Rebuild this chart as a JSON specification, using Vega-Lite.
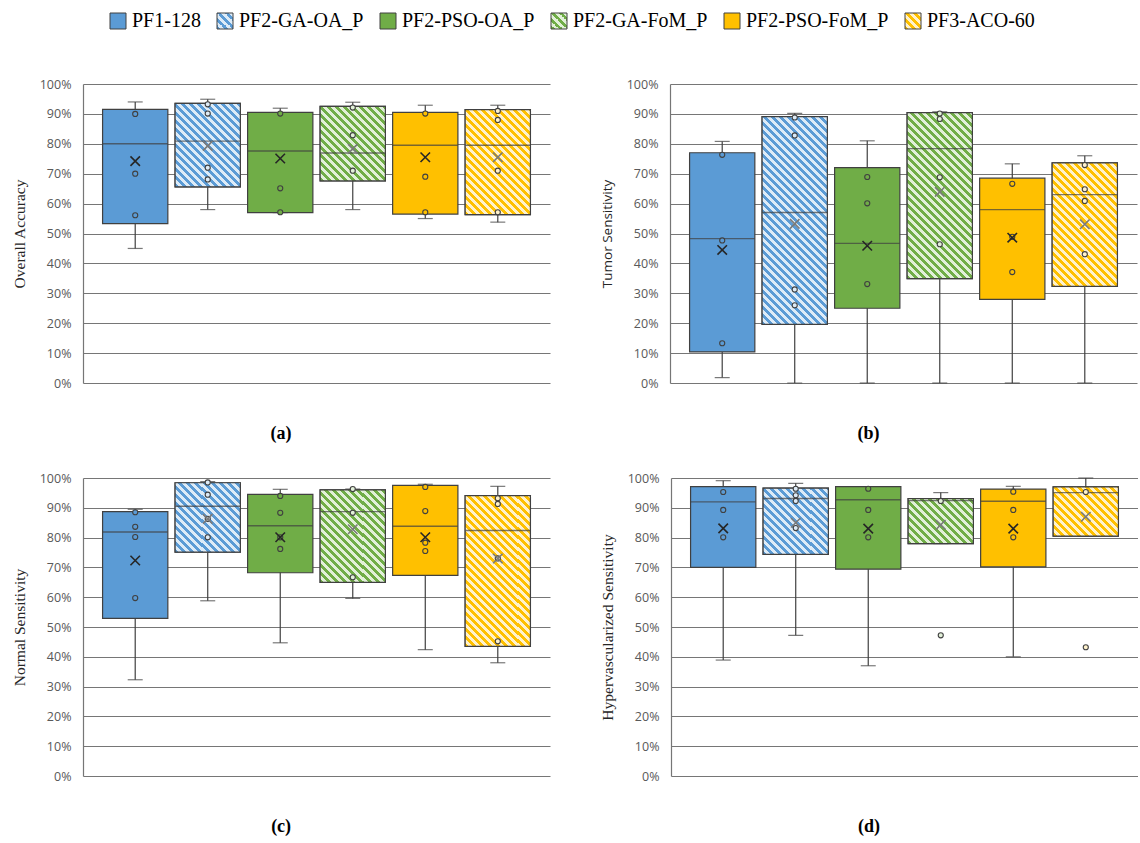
{
  "$schema": "https://vega.github.io/schema/vega-lite/v6.json",
  "padding": {"left": 12, "top": 11, "right": 0, "bottom": 0},
  "background": "white",
  "params": [
    {"name": "stripesBlue", "value": [
      {"offset":0,"color":"#5B9BD5"},{"offset":0.0125,"color":"#5B9BD5"},{"offset":0.0125,"color":"#DDEBF7"},{"offset":0.025,"color":"#DDEBF7"},
      {"offset":0.025,"color":"#5B9BD5"},{"offset":0.0375,"color":"#5B9BD5"},{"offset":0.0375,"color":"#DDEBF7"},{"offset":0.05,"color":"#DDEBF7"},
      {"offset":0.05,"color":"#5B9BD5"},{"offset":0.0625,"color":"#5B9BD5"},{"offset":0.0625,"color":"#DDEBF7"},{"offset":0.075,"color":"#DDEBF7"},
      {"offset":0.075,"color":"#5B9BD5"},{"offset":0.0875,"color":"#5B9BD5"},{"offset":0.0875,"color":"#DDEBF7"},{"offset":0.1,"color":"#DDEBF7"},
      {"offset":0.1,"color":"#5B9BD5"},{"offset":0.1125,"color":"#5B9BD5"},{"offset":0.1125,"color":"#DDEBF7"},{"offset":0.125,"color":"#DDEBF7"},
      {"offset":0.125,"color":"#5B9BD5"},{"offset":0.1375,"color":"#5B9BD5"},{"offset":0.1375,"color":"#DDEBF7"},{"offset":0.15,"color":"#DDEBF7"},
      {"offset":0.15,"color":"#5B9BD5"},{"offset":0.1625,"color":"#5B9BD5"},{"offset":0.1625,"color":"#DDEBF7"},{"offset":0.175,"color":"#DDEBF7"},
      {"offset":0.175,"color":"#5B9BD5"},{"offset":0.1875,"color":"#5B9BD5"},{"offset":0.1875,"color":"#DDEBF7"},{"offset":0.2,"color":"#DDEBF7"},
      {"offset":0.2,"color":"#5B9BD5"},{"offset":0.2125,"color":"#5B9BD5"},{"offset":0.2125,"color":"#DDEBF7"},{"offset":0.225,"color":"#DDEBF7"},
      {"offset":0.225,"color":"#5B9BD5"},{"offset":0.2375,"color":"#5B9BD5"},{"offset":0.2375,"color":"#DDEBF7"},{"offset":0.25,"color":"#DDEBF7"},
      {"offset":0.25,"color":"#5B9BD5"},{"offset":0.2625,"color":"#5B9BD5"},{"offset":0.2625,"color":"#DDEBF7"},{"offset":0.275,"color":"#DDEBF7"},
      {"offset":0.275,"color":"#5B9BD5"},{"offset":0.2875,"color":"#5B9BD5"},{"offset":0.2875,"color":"#DDEBF7"},{"offset":0.3,"color":"#DDEBF7"},
      {"offset":0.3,"color":"#5B9BD5"},{"offset":0.3125,"color":"#5B9BD5"},{"offset":0.3125,"color":"#DDEBF7"},{"offset":0.325,"color":"#DDEBF7"},
      {"offset":0.325,"color":"#5B9BD5"},{"offset":0.3375,"color":"#5B9BD5"},{"offset":0.3375,"color":"#DDEBF7"},{"offset":0.35,"color":"#DDEBF7"},
      {"offset":0.35,"color":"#5B9BD5"},{"offset":0.3625,"color":"#5B9BD5"},{"offset":0.3625,"color":"#DDEBF7"},{"offset":0.375,"color":"#DDEBF7"},
      {"offset":0.375,"color":"#5B9BD5"},{"offset":0.3875,"color":"#5B9BD5"},{"offset":0.3875,"color":"#DDEBF7"},{"offset":0.4,"color":"#DDEBF7"},
      {"offset":0.4,"color":"#5B9BD5"},{"offset":0.4125,"color":"#5B9BD5"},{"offset":0.4125,"color":"#DDEBF7"},{"offset":0.425,"color":"#DDEBF7"},
      {"offset":0.425,"color":"#5B9BD5"},{"offset":0.4375,"color":"#5B9BD5"},{"offset":0.4375,"color":"#DDEBF7"},{"offset":0.45,"color":"#DDEBF7"},
      {"offset":0.45,"color":"#5B9BD5"},{"offset":0.4625,"color":"#5B9BD5"},{"offset":0.4625,"color":"#DDEBF7"},{"offset":0.475,"color":"#DDEBF7"},
      {"offset":0.475,"color":"#5B9BD5"},{"offset":0.4875,"color":"#5B9BD5"},{"offset":0.4875,"color":"#DDEBF7"},{"offset":0.5,"color":"#DDEBF7"},
      {"offset":0.5,"color":"#5B9BD5"},{"offset":0.5125,"color":"#5B9BD5"},{"offset":0.5125,"color":"#DDEBF7"},{"offset":0.525,"color":"#DDEBF7"},
      {"offset":0.525,"color":"#5B9BD5"},{"offset":0.5375,"color":"#5B9BD5"},{"offset":0.5375,"color":"#DDEBF7"},{"offset":0.55,"color":"#DDEBF7"},
      {"offset":0.55,"color":"#5B9BD5"},{"offset":0.5625,"color":"#5B9BD5"},{"offset":0.5625,"color":"#DDEBF7"},{"offset":0.575,"color":"#DDEBF7"},
      {"offset":0.575,"color":"#5B9BD5"},{"offset":0.5875,"color":"#5B9BD5"},{"offset":0.5875,"color":"#DDEBF7"},{"offset":0.6,"color":"#DDEBF7"},
      {"offset":0.6,"color":"#5B9BD5"},{"offset":0.6125,"color":"#5B9BD5"},{"offset":0.6125,"color":"#DDEBF7"},{"offset":0.625,"color":"#DDEBF7"},
      {"offset":0.625,"color":"#5B9BD5"},{"offset":0.6375,"color":"#5B9BD5"},{"offset":0.6375,"color":"#DDEBF7"},{"offset":0.65,"color":"#DDEBF7"},
      {"offset":0.65,"color":"#5B9BD5"},{"offset":0.6625,"color":"#5B9BD5"},{"offset":0.6625,"color":"#DDEBF7"},{"offset":0.675,"color":"#DDEBF7"},
      {"offset":0.675,"color":"#5B9BD5"},{"offset":0.6875,"color":"#5B9BD5"},{"offset":0.6875,"color":"#DDEBF7"},{"offset":0.7,"color":"#DDEBF7"},
      {"offset":0.7,"color":"#5B9BD5"},{"offset":0.7125,"color":"#5B9BD5"},{"offset":0.7125,"color":"#DDEBF7"},{"offset":0.725,"color":"#DDEBF7"},
      {"offset":0.725,"color":"#5B9BD5"},{"offset":0.7375,"color":"#5B9BD5"},{"offset":0.7375,"color":"#DDEBF7"},{"offset":0.75,"color":"#DDEBF7"},
      {"offset":0.75,"color":"#5B9BD5"},{"offset":0.7625,"color":"#5B9BD5"},{"offset":0.7625,"color":"#DDEBF7"},{"offset":0.775,"color":"#DDEBF7"},
      {"offset":0.775,"color":"#5B9BD5"},{"offset":0.7875,"color":"#5B9BD5"},{"offset":0.7875,"color":"#DDEBF7"},{"offset":0.8,"color":"#DDEBF7"},
      {"offset":0.8,"color":"#5B9BD5"},{"offset":0.8125,"color":"#5B9BD5"},{"offset":0.8125,"color":"#DDEBF7"},{"offset":0.825,"color":"#DDEBF7"},
      {"offset":0.825,"color":"#5B9BD5"},{"offset":0.8375,"color":"#5B9BD5"},{"offset":0.8375,"color":"#DDEBF7"},{"offset":0.85,"color":"#DDEBF7"},
      {"offset":0.85,"color":"#5B9BD5"},{"offset":0.8625,"color":"#5B9BD5"},{"offset":0.8625,"color":"#DDEBF7"},{"offset":0.875,"color":"#DDEBF7"},
      {"offset":0.875,"color":"#5B9BD5"},{"offset":0.8875,"color":"#5B9BD5"},{"offset":0.8875,"color":"#DDEBF7"},{"offset":0.9,"color":"#DDEBF7"},
      {"offset":0.9,"color":"#5B9BD5"},{"offset":0.9125,"color":"#5B9BD5"},{"offset":0.9125,"color":"#DDEBF7"},{"offset":0.925,"color":"#DDEBF7"},
      {"offset":0.925,"color":"#5B9BD5"},{"offset":0.9375,"color":"#5B9BD5"},{"offset":0.9375,"color":"#DDEBF7"},{"offset":0.95,"color":"#DDEBF7"},
      {"offset":0.95,"color":"#5B9BD5"},{"offset":0.9625,"color":"#5B9BD5"},{"offset":0.9625,"color":"#DDEBF7"},{"offset":0.975,"color":"#DDEBF7"},
      {"offset":0.975,"color":"#5B9BD5"},{"offset":0.9875,"color":"#5B9BD5"},{"offset":0.9875,"color":"#DDEBF7"},{"offset":1,"color":"#DDEBF7"}
    ]},
    {"name": "stripesGreen", "value": [
      {"offset":0,"color":"#70AD47"},{"offset":0.0125,"color":"#70AD47"},{"offset":0.0125,"color":"#E2F0D9"},{"offset":0.025,"color":"#E2F0D9"},
      {"offset":0.025,"color":"#70AD47"},{"offset":0.0375,"color":"#70AD47"},{"offset":0.0375,"color":"#E2F0D9"},{"offset":0.05,"color":"#E2F0D9"},
      {"offset":0.05,"color":"#70AD47"},{"offset":0.0625,"color":"#70AD47"},{"offset":0.0625,"color":"#E2F0D9"},{"offset":0.075,"color":"#E2F0D9"},
      {"offset":0.075,"color":"#70AD47"},{"offset":0.0875,"color":"#70AD47"},{"offset":0.0875,"color":"#E2F0D9"},{"offset":0.1,"color":"#E2F0D9"},
      {"offset":0.1,"color":"#70AD47"},{"offset":0.1125,"color":"#70AD47"},{"offset":0.1125,"color":"#E2F0D9"},{"offset":0.125,"color":"#E2F0D9"},
      {"offset":0.125,"color":"#70AD47"},{"offset":0.1375,"color":"#70AD47"},{"offset":0.1375,"color":"#E2F0D9"},{"offset":0.15,"color":"#E2F0D9"},
      {"offset":0.15,"color":"#70AD47"},{"offset":0.1625,"color":"#70AD47"},{"offset":0.1625,"color":"#E2F0D9"},{"offset":0.175,"color":"#E2F0D9"},
      {"offset":0.175,"color":"#70AD47"},{"offset":0.1875,"color":"#70AD47"},{"offset":0.1875,"color":"#E2F0D9"},{"offset":0.2,"color":"#E2F0D9"},
      {"offset":0.2,"color":"#70AD47"},{"offset":0.2125,"color":"#70AD47"},{"offset":0.2125,"color":"#E2F0D9"},{"offset":0.225,"color":"#E2F0D9"},
      {"offset":0.225,"color":"#70AD47"},{"offset":0.2375,"color":"#70AD47"},{"offset":0.2375,"color":"#E2F0D9"},{"offset":0.25,"color":"#E2F0D9"},
      {"offset":0.25,"color":"#70AD47"},{"offset":0.2625,"color":"#70AD47"},{"offset":0.2625,"color":"#E2F0D9"},{"offset":0.275,"color":"#E2F0D9"},
      {"offset":0.275,"color":"#70AD47"},{"offset":0.2875,"color":"#70AD47"},{"offset":0.2875,"color":"#E2F0D9"},{"offset":0.3,"color":"#E2F0D9"},
      {"offset":0.3,"color":"#70AD47"},{"offset":0.3125,"color":"#70AD47"},{"offset":0.3125,"color":"#E2F0D9"},{"offset":0.325,"color":"#E2F0D9"},
      {"offset":0.325,"color":"#70AD47"},{"offset":0.3375,"color":"#70AD47"},{"offset":0.3375,"color":"#E2F0D9"},{"offset":0.35,"color":"#E2F0D9"},
      {"offset":0.35,"color":"#70AD47"},{"offset":0.3625,"color":"#70AD47"},{"offset":0.3625,"color":"#E2F0D9"},{"offset":0.375,"color":"#E2F0D9"},
      {"offset":0.375,"color":"#70AD47"},{"offset":0.3875,"color":"#70AD47"},{"offset":0.3875,"color":"#E2F0D9"},{"offset":0.4,"color":"#E2F0D9"},
      {"offset":0.4,"color":"#70AD47"},{"offset":0.4125,"color":"#70AD47"},{"offset":0.4125,"color":"#E2F0D9"},{"offset":0.425,"color":"#E2F0D9"},
      {"offset":0.425,"color":"#70AD47"},{"offset":0.4375,"color":"#70AD47"},{"offset":0.4375,"color":"#E2F0D9"},{"offset":0.45,"color":"#E2F0D9"},
      {"offset":0.45,"color":"#70AD47"},{"offset":0.4625,"color":"#70AD47"},{"offset":0.4625,"color":"#E2F0D9"},{"offset":0.475,"color":"#E2F0D9"},
      {"offset":0.475,"color":"#70AD47"},{"offset":0.4875,"color":"#70AD47"},{"offset":0.4875,"color":"#E2F0D9"},{"offset":0.5,"color":"#E2F0D9"},
      {"offset":0.5,"color":"#70AD47"},{"offset":0.5125,"color":"#70AD47"},{"offset":0.5125,"color":"#E2F0D9"},{"offset":0.525,"color":"#E2F0D9"},
      {"offset":0.525,"color":"#70AD47"},{"offset":0.5375,"color":"#70AD47"},{"offset":0.5375,"color":"#E2F0D9"},{"offset":0.55,"color":"#E2F0D9"},
      {"offset":0.55,"color":"#70AD47"},{"offset":0.5625,"color":"#70AD47"},{"offset":0.5625,"color":"#E2F0D9"},{"offset":0.575,"color":"#E2F0D9"},
      {"offset":0.575,"color":"#70AD47"},{"offset":0.5875,"color":"#70AD47"},{"offset":0.5875,"color":"#E2F0D9"},{"offset":0.6,"color":"#E2F0D9"},
      {"offset":0.6,"color":"#70AD47"},{"offset":0.6125,"color":"#70AD47"},{"offset":0.6125,"color":"#E2F0D9"},{"offset":0.625,"color":"#E2F0D9"},
      {"offset":0.625,"color":"#70AD47"},{"offset":0.6375,"color":"#70AD47"},{"offset":0.6375,"color":"#E2F0D9"},{"offset":0.65,"color":"#E2F0D9"},
      {"offset":0.65,"color":"#70AD47"},{"offset":0.6625,"color":"#70AD47"},{"offset":0.6625,"color":"#E2F0D9"},{"offset":0.675,"color":"#E2F0D9"},
      {"offset":0.675,"color":"#70AD47"},{"offset":0.6875,"color":"#70AD47"},{"offset":0.6875,"color":"#E2F0D9"},{"offset":0.7,"color":"#E2F0D9"},
      {"offset":0.7,"color":"#70AD47"},{"offset":0.7125,"color":"#70AD47"},{"offset":0.7125,"color":"#E2F0D9"},{"offset":0.725,"color":"#E2F0D9"},
      {"offset":0.725,"color":"#70AD47"},{"offset":0.7375,"color":"#70AD47"},{"offset":0.7375,"color":"#E2F0D9"},{"offset":0.75,"color":"#E2F0D9"},
      {"offset":0.75,"color":"#70AD47"},{"offset":0.7625,"color":"#70AD47"},{"offset":0.7625,"color":"#E2F0D9"},{"offset":0.775,"color":"#E2F0D9"},
      {"offset":0.775,"color":"#70AD47"},{"offset":0.7875,"color":"#70AD47"},{"offset":0.7875,"color":"#E2F0D9"},{"offset":0.8,"color":"#E2F0D9"},
      {"offset":0.8,"color":"#70AD47"},{"offset":0.8125,"color":"#70AD47"},{"offset":0.8125,"color":"#E2F0D9"},{"offset":0.825,"color":"#E2F0D9"},
      {"offset":0.825,"color":"#70AD47"},{"offset":0.8375,"color":"#70AD47"},{"offset":0.8375,"color":"#E2F0D9"},{"offset":0.85,"color":"#E2F0D9"},
      {"offset":0.85,"color":"#70AD47"},{"offset":0.8625,"color":"#70AD47"},{"offset":0.8625,"color":"#E2F0D9"},{"offset":0.875,"color":"#E2F0D9"},
      {"offset":0.875,"color":"#70AD47"},{"offset":0.8875,"color":"#70AD47"},{"offset":0.8875,"color":"#E2F0D9"},{"offset":0.9,"color":"#E2F0D9"},
      {"offset":0.9,"color":"#70AD47"},{"offset":0.9125,"color":"#70AD47"},{"offset":0.9125,"color":"#E2F0D9"},{"offset":0.925,"color":"#E2F0D9"},
      {"offset":0.925,"color":"#70AD47"},{"offset":0.9375,"color":"#70AD47"},{"offset":0.9375,"color":"#E2F0D9"},{"offset":0.95,"color":"#E2F0D9"},
      {"offset":0.95,"color":"#70AD47"},{"offset":0.9625,"color":"#70AD47"},{"offset":0.9625,"color":"#E2F0D9"},{"offset":0.975,"color":"#E2F0D9"},
      {"offset":0.975,"color":"#70AD47"},{"offset":0.9875,"color":"#70AD47"},{"offset":0.9875,"color":"#E2F0D9"},{"offset":1,"color":"#E2F0D9"}
    ]},
    {"name": "stripesYellow", "value": [
      {"offset":0,"color":"#FFC000"},{"offset":0.0125,"color":"#FFC000"},{"offset":0.0125,"color":"#FFF2CC"},{"offset":0.025,"color":"#FFF2CC"},
      {"offset":0.025,"color":"#FFC000"},{"offset":0.0375,"color":"#FFC000"},{"offset":0.0375,"color":"#FFF2CC"},{"offset":0.05,"color":"#FFF2CC"},
      {"offset":0.05,"color":"#FFC000"},{"offset":0.0625,"color":"#FFC000"},{"offset":0.0625,"color":"#FFF2CC"},{"offset":0.075,"color":"#FFF2CC"},
      {"offset":0.075,"color":"#FFC000"},{"offset":0.0875,"color":"#FFC000"},{"offset":0.0875,"color":"#FFF2CC"},{"offset":0.1,"color":"#FFF2CC"},
      {"offset":0.1,"color":"#FFC000"},{"offset":0.1125,"color":"#FFC000"},{"offset":0.1125,"color":"#FFF2CC"},{"offset":0.125,"color":"#FFF2CC"},
      {"offset":0.125,"color":"#FFC000"},{"offset":0.1375,"color":"#FFC000"},{"offset":0.1375,"color":"#FFF2CC"},{"offset":0.15,"color":"#FFF2CC"},
      {"offset":0.15,"color":"#FFC000"},{"offset":0.1625,"color":"#FFC000"},{"offset":0.1625,"color":"#FFF2CC"},{"offset":0.175,"color":"#FFF2CC"},
      {"offset":0.175,"color":"#FFC000"},{"offset":0.1875,"color":"#FFC000"},{"offset":0.1875,"color":"#FFF2CC"},{"offset":0.2,"color":"#FFF2CC"},
      {"offset":0.2,"color":"#FFC000"},{"offset":0.2125,"color":"#FFC000"},{"offset":0.2125,"color":"#FFF2CC"},{"offset":0.225,"color":"#FFF2CC"},
      {"offset":0.225,"color":"#FFC000"},{"offset":0.2375,"color":"#FFC000"},{"offset":0.2375,"color":"#FFF2CC"},{"offset":0.25,"color":"#FFF2CC"},
      {"offset":0.25,"color":"#FFC000"},{"offset":0.2625,"color":"#FFC000"},{"offset":0.2625,"color":"#FFF2CC"},{"offset":0.275,"color":"#FFF2CC"},
      {"offset":0.275,"color":"#FFC000"},{"offset":0.2875,"color":"#FFC000"},{"offset":0.2875,"color":"#FFF2CC"},{"offset":0.3,"color":"#FFF2CC"},
      {"offset":0.3,"color":"#FFC000"},{"offset":0.3125,"color":"#FFC000"},{"offset":0.3125,"color":"#FFF2CC"},{"offset":0.325,"color":"#FFF2CC"},
      {"offset":0.325,"color":"#FFC000"},{"offset":0.3375,"color":"#FFC000"},{"offset":0.3375,"color":"#FFF2CC"},{"offset":0.35,"color":"#FFF2CC"},
      {"offset":0.35,"color":"#FFC000"},{"offset":0.3625,"color":"#FFC000"},{"offset":0.3625,"color":"#FFF2CC"},{"offset":0.375,"color":"#FFF2CC"},
      {"offset":0.375,"color":"#FFC000"},{"offset":0.3875,"color":"#FFC000"},{"offset":0.3875,"color":"#FFF2CC"},{"offset":0.4,"color":"#FFF2CC"},
      {"offset":0.4,"color":"#FFC000"},{"offset":0.4125,"color":"#FFC000"},{"offset":0.4125,"color":"#FFF2CC"},{"offset":0.425,"color":"#FFF2CC"},
      {"offset":0.425,"color":"#FFC000"},{"offset":0.4375,"color":"#FFC000"},{"offset":0.4375,"color":"#FFF2CC"},{"offset":0.45,"color":"#FFF2CC"},
      {"offset":0.45,"color":"#FFC000"},{"offset":0.4625,"color":"#FFC000"},{"offset":0.4625,"color":"#FFF2CC"},{"offset":0.475,"color":"#FFF2CC"},
      {"offset":0.475,"color":"#FFC000"},{"offset":0.4875,"color":"#FFC000"},{"offset":0.4875,"color":"#FFF2CC"},{"offset":0.5,"color":"#FFF2CC"},
      {"offset":0.5,"color":"#FFC000"},{"offset":0.5125,"color":"#FFC000"},{"offset":0.5125,"color":"#FFF2CC"},{"offset":0.525,"color":"#FFF2CC"},
      {"offset":0.525,"color":"#FFC000"},{"offset":0.5375,"color":"#FFC000"},{"offset":0.5375,"color":"#FFF2CC"},{"offset":0.55,"color":"#FFF2CC"},
      {"offset":0.55,"color":"#FFC000"},{"offset":0.5625,"color":"#FFC000"},{"offset":0.5625,"color":"#FFF2CC"},{"offset":0.575,"color":"#FFF2CC"},
      {"offset":0.575,"color":"#FFC000"},{"offset":0.5875,"color":"#FFC000"},{"offset":0.5875,"color":"#FFF2CC"},{"offset":0.6,"color":"#FFF2CC"},
      {"offset":0.6,"color":"#FFC000"},{"offset":0.6125,"color":"#FFC000"},{"offset":0.6125,"color":"#FFF2CC"},{"offset":0.625,"color":"#FFF2CC"},
      {"offset":0.625,"color":"#FFC000"},{"offset":0.6375,"color":"#FFC000"},{"offset":0.6375,"color":"#FFF2CC"},{"offset":0.65,"color":"#FFF2CC"},
      {"offset":0.65,"color":"#FFC000"},{"offset":0.6625,"color":"#FFC000"},{"offset":0.6625,"color":"#FFF2CC"},{"offset":0.675,"color":"#FFF2CC"},
      {"offset":0.675,"color":"#FFC000"},{"offset":0.6875,"color":"#FFC000"},{"offset":0.6875,"color":"#FFF2CC"},{"offset":0.7,"color":"#FFF2CC"},
      {"offset":0.7,"color":"#FFC000"},{"offset":0.7125,"color":"#FFC000"},{"offset":0.7125,"color":"#FFF2CC"},{"offset":0.725,"color":"#FFF2CC"},
      {"offset":0.725,"color":"#FFC000"},{"offset":0.7375,"color":"#FFC000"},{"offset":0.7375,"color":"#FFF2CC"},{"offset":0.75,"color":"#FFF2CC"},
      {"offset":0.75,"color":"#FFC000"},{"offset":0.7625,"color":"#FFC000"},{"offset":0.7625,"color":"#FFF2CC"},{"offset":0.775,"color":"#FFF2CC"},
      {"offset":0.775,"color":"#FFC000"},{"offset":0.7875,"color":"#FFC000"},{"offset":0.7875,"color":"#FFF2CC"},{"offset":0.8,"color":"#FFF2CC"},
      {"offset":0.8,"color":"#FFC000"},{"offset":0.8125,"color":"#FFC000"},{"offset":0.8125,"color":"#FFF2CC"},{"offset":0.825,"color":"#FFF2CC"},
      {"offset":0.825,"color":"#FFC000"},{"offset":0.8375,"color":"#FFC000"},{"offset":0.8375,"color":"#FFF2CC"},{"offset":0.85,"color":"#FFF2CC"},
      {"offset":0.85,"color":"#FFC000"},{"offset":0.8625,"color":"#FFC000"},{"offset":0.8625,"color":"#FFF2CC"},{"offset":0.875,"color":"#FFF2CC"},
      {"offset":0.875,"color":"#FFC000"},{"offset":0.8875,"color":"#FFC000"},{"offset":0.8875,"color":"#FFF2CC"},{"offset":0.9,"color":"#FFF2CC"},
      {"offset":0.9,"color":"#FFC000"},{"offset":0.9125,"color":"#FFC000"},{"offset":0.9125,"color":"#FFF2CC"},{"offset":0.925,"color":"#FFF2CC"},
      {"offset":0.925,"color":"#FFC000"},{"offset":0.9375,"color":"#FFC000"},{"offset":0.9375,"color":"#FFF2CC"},{"offset":0.95,"color":"#FFF2CC"},
      {"offset":0.95,"color":"#FFC000"},{"offset":0.9625,"color":"#FFC000"},{"offset":0.9625,"color":"#FFF2CC"},{"offset":0.975,"color":"#FFF2CC"},
      {"offset":0.975,"color":"#FFC000"},{"offset":0.9875,"color":"#FFC000"},{"offset":0.9875,"color":"#FFF2CC"},{"offset":1,"color":"#FFF2CC"}
    ]}
  ],
  "datasets": {
    "stats": [
      {"panel":"a","series":"PF1-128","min":0.45,"q1":0.533,"median":0.8,"q3":0.915,"max":0.94,"mean":0.742},
      {"panel":"a","series":"PF2-GA-OA_P","min":0.58,"q1":0.656,"median":0.809,"q3":0.935,"max":0.949,"mean":0.793},
      {"panel":"a","series":"PF2-PSO-OA_P","min":0.57,"q1":0.57,"median":0.776,"q3":0.905,"max":0.919,"mean":0.751},
      {"panel":"a","series":"PF2-GA-FoM_P","min":0.58,"q1":0.676,"median":0.769,"q3":0.925,"max":0.939,"mean":0.783},
      {"panel":"a","series":"PF2-PSO-FoM_P","min":0.55,"q1":0.565,"median":0.795,"q3":0.905,"max":0.929,"mean":0.755},
      {"panel":"a","series":"PF3-ACO-60","min":0.538,"q1":0.563,"median":0.795,"q3":0.914,"max":0.929,"mean":0.755},
      {"panel":"b","series":"PF1-128","min":0.018,"q1":0.104,"median":0.483,"q3":0.77,"max":0.808,"mean":0.445},
      {"panel":"b","series":"PF2-GA-OA_P","min":0,"q1":0.196,"median":0.57,"q3":0.891,"max":0.902,"mean":0.532},
      {"panel":"b","series":"PF2-PSO-OA_P","min":0,"q1":0.25,"median":0.467,"q3":0.72,"max":0.81,"mean":0.459},
      {"panel":"b","series":"PF2-GA-FoM_P","min":0,"q1":0.349,"median":0.784,"q3":0.904,"max":0.907,"mean":0.639},
      {"panel":"b","series":"PF2-PSO-FoM_P","min":0,"q1":0.28,"median":0.58,"q3":0.685,"max":0.733,"mean":0.486},
      {"panel":"b","series":"PF3-ACO-60","min":0,"q1":0.323,"median":0.63,"q3":0.736,"max":0.76,"mean":0.531},
      {"panel":"c","series":"PF1-128","min":0.323,"q1":0.529,"median":0.819,"q3":0.887,"max":0.895,"mean":0.723},
      {"panel":"c","series":"PF2-GA-OA_P","min":0.588,"q1":0.751,"median":0.905,"q3":0.984,"max":0.988,"mean":0.863},
      {"panel":"c","series":"PF2-PSO-OA_P","min":0.447,"q1":0.682,"median":0.84,"q3":0.945,"max":0.962,"mean":0.801},
      {"panel":"c","series":"PF2-GA-FoM_P","min":0.596,"q1":0.65,"median":0.887,"q3":0.96,"max":0.963,"mean":0.828},
      {"panel":"c","series":"PF2-PSO-FoM_P","min":0.424,"q1":0.673,"median":0.838,"q3":0.975,"max":0.979,"mean":0.801},
      {"panel":"c","series":"PF3-ACO-60","min":0.38,"q1":0.435,"median":0.824,"q3":0.941,"max":0.972,"mean":0.73},
      {"panel":"d","series":"PF1-128","min":0.389,"q1":0.7,"median":0.92,"q3":0.971,"max":0.991,"mean":0.831},
      {"panel":"d","series":"PF2-GA-OA_P","min":0.472,"q1":0.744,"median":0.931,"q3":0.966,"max":0.982,"mean":0.85},
      {"panel":"d","series":"PF2-PSO-OA_P","min":0.37,"q1":0.694,"median":0.927,"q3":0.971,"max":0.971,"mean":0.83},
      {"panel":"d","series":"PF2-GA-FoM_P","min":0.78,"q1":0.78,"median":0.924,"q3":0.931,"max":0.951,"mean":0.843},
      {"panel":"d","series":"PF2-PSO-FoM_P","min":0.4,"q1":0.702,"median":0.922,"q3":0.963,"max":0.972,"mean":0.83},
      {"panel":"d","series":"PF3-ACO-60","min":0.805,"q1":0.805,"median":0.951,"q3":0.97,"max":1.0,"mean":0.87}
    ],
    "points": [
      {"panel":"a","series":"PF1-128","value":0.9},{"panel":"a","series":"PF1-128","value":0.7},{"panel":"a","series":"PF1-128","value":0.561},
      {"panel":"a","series":"PF2-GA-OA_P","value":0.932},{"panel":"a","series":"PF2-GA-OA_P","value":0.901},{"panel":"a","series":"PF2-GA-OA_P","value":0.72},{"panel":"a","series":"PF2-GA-OA_P","value":0.681},
      {"panel":"a","series":"PF2-PSO-OA_P","value":0.901},{"panel":"a","series":"PF2-PSO-OA_P","value":0.651},{"panel":"a","series":"PF2-PSO-OA_P","value":0.571},
      {"panel":"a","series":"PF2-GA-FoM_P","value":0.921},{"panel":"a","series":"PF2-GA-FoM_P","value":0.829},{"panel":"a","series":"PF2-GA-FoM_P","value":0.71},
      {"panel":"a","series":"PF2-PSO-FoM_P","value":0.901},{"panel":"a","series":"PF2-PSO-FoM_P","value":0.69},{"panel":"a","series":"PF2-PSO-FoM_P","value":0.571},
      {"panel":"a","series":"PF3-ACO-60","value":0.91},{"panel":"a","series":"PF3-ACO-60","value":0.88},{"panel":"a","series":"PF3-ACO-60","value":0.71},{"panel":"a","series":"PF3-ACO-60","value":0.571},
      {"panel":"b","series":"PF1-128","value":0.763},{"panel":"b","series":"PF1-128","value":0.477},{"panel":"b","series":"PF1-128","value":0.133},
      {"panel":"b","series":"PF2-GA-OA_P","value":0.888},{"panel":"b","series":"PF2-GA-OA_P","value":0.828},{"panel":"b","series":"PF2-GA-OA_P","value":0.313},{"panel":"b","series":"PF2-GA-OA_P","value":0.26},
      {"panel":"b","series":"PF2-PSO-OA_P","value":0.689},{"panel":"b","series":"PF2-PSO-OA_P","value":0.601},{"panel":"b","series":"PF2-PSO-OA_P","value":0.331},
      {"panel":"b","series":"PF2-GA-FoM_P","value":0.901},{"panel":"b","series":"PF2-GA-FoM_P","value":0.883},{"panel":"b","series":"PF2-GA-FoM_P","value":0.688},{"panel":"b","series":"PF2-GA-FoM_P","value":0.464},
      {"panel":"b","series":"PF2-PSO-FoM_P","value":0.666},{"panel":"b","series":"PF2-PSO-FoM_P","value":0.489},{"panel":"b","series":"PF2-PSO-FoM_P","value":0.371},
      {"panel":"b","series":"PF3-ACO-60","value":0.729},{"panel":"b","series":"PF3-ACO-60","value":0.648},{"panel":"b","series":"PF3-ACO-60","value":0.609},{"panel":"b","series":"PF3-ACO-60","value":0.431},
      {"panel":"c","series":"PF1-128","value":0.885},{"panel":"c","series":"PF1-128","value":0.836},{"panel":"c","series":"PF1-128","value":0.802},{"panel":"c","series":"PF1-128","value":0.597},
      {"panel":"c","series":"PF2-GA-OA_P","value":0.985},{"panel":"c","series":"PF2-GA-OA_P","value":0.944},{"panel":"c","series":"PF2-GA-OA_P","value":0.863},{"panel":"c","series":"PF2-GA-OA_P","value":0.801},
      {"panel":"c","series":"PF2-PSO-OA_P","value":0.94},{"panel":"c","series":"PF2-PSO-OA_P","value":0.883},{"panel":"c","series":"PF2-PSO-OA_P","value":0.801},{"panel":"c","series":"PF2-PSO-OA_P","value":0.762},
      {"panel":"c","series":"PF2-GA-FoM_P","value":0.963},{"panel":"c","series":"PF2-GA-FoM_P","value":0.883},{"panel":"c","series":"PF2-GA-FoM_P","value":0.667},
      {"panel":"c","series":"PF2-PSO-FoM_P","value":0.97},{"panel":"c","series":"PF2-PSO-FoM_P","value":0.889},{"panel":"c","series":"PF2-PSO-FoM_P","value":0.783},{"panel":"c","series":"PF2-PSO-FoM_P","value":0.755},
      {"panel":"c","series":"PF3-ACO-60","value":0.932},{"panel":"c","series":"PF3-ACO-60","value":0.913},{"panel":"c","series":"PF3-ACO-60","value":0.73},{"panel":"c","series":"PF3-ACO-60","value":0.452},
      {"panel":"d","series":"PF1-128","value":0.953},{"panel":"d","series":"PF1-128","value":0.893},{"panel":"d","series":"PF1-128","value":0.801},
      {"panel":"d","series":"PF2-GA-OA_P","value":0.964},{"panel":"d","series":"PF2-GA-OA_P","value":0.942},{"panel":"d","series":"PF2-GA-OA_P","value":0.923},{"panel":"d","series":"PF2-GA-OA_P","value":0.832},
      {"panel":"d","series":"PF2-PSO-OA_P","value":0.964},{"panel":"d","series":"PF2-PSO-OA_P","value":0.893},{"panel":"d","series":"PF2-PSO-OA_P","value":0.801},
      {"panel":"d","series":"PF2-GA-FoM_P","value":0.923},{"panel":"d","series":"PF2-GA-FoM_P","value":0.472},
      {"panel":"d","series":"PF2-PSO-FoM_P","value":0.954},{"panel":"d","series":"PF2-PSO-FoM_P","value":0.893},{"panel":"d","series":"PF2-PSO-FoM_P","value":0.801},
      {"panel":"d","series":"PF3-ACO-60","value":0.953},{"panel":"d","series":"PF3-ACO-60","value":0.432}
    ]
  },
  "vconcat": [
    {
      "hconcat": [
        {
          "width": 467, "height": 299,
          "title": {"text": "(a)"},
          "encoding": {"x": {"field": "series", "type": "nominal", "scale": {"domain": ["PF1-128","PF2-GA-OA_P","PF2-PSO-OA_P","PF2-GA-FoM_P","PF2-PSO-FoM_P","PF3-ACO-60"], "paddingInner": 0.1, "paddingOuter": 0.27}, "axis": null}},
          "layer": [
            {"data": {"name": "stats"}, "transform": [{"filter": "datum.panel === 'a'"}],
             "mark": {"type": "rule", "color": "#404040", "strokeWidth": 1.2},
             "encoding": {"y": {"field": "min", "type": "quantitative", "scale": {"domain": [0, 1], "nice": false}, "axis": {"title": "Overall Accuracy", "values": [0,0.1,0.2,0.3,0.4,0.5,0.6,0.7,0.8,0.9,1], "tickCount": 11, "format": ".0%"}}, "y2": {"field": "max"}}},
            {"data": {"name": "stats"}, "transform": [{"filter": "datum.panel === 'a'"}],
             "mark": {"type": "tick", "color": "#404040", "size": 15, "thickness": 1.2},
             "encoding": {"y": {"field": "min", "type": "quantitative", "axis": {"title": "Overall Accuracy", "values": [0,0.1,0.2,0.3,0.4,0.5,0.6,0.7,0.8,0.9,1], "tickCount": 11, "format": ".0%"}}}},
            {"data": {"name": "stats"}, "transform": [{"filter": "datum.panel === 'a'"}],
             "mark": {"type": "tick", "color": "#404040", "size": 15, "thickness": 1.2},
             "encoding": {"y": {"field": "max", "type": "quantitative", "axis": {"title": "Overall Accuracy", "values": [0,0.1,0.2,0.3,0.4,0.5,0.6,0.7,0.8,0.9,1], "tickCount": 11, "format": ".0%"}}}},
            {"data": {"name": "stats"}, "transform": [{"filter": "datum.panel === 'a'"}],
             "mark": {"type": "bar", "stroke": "#404040", "strokeWidth": 1.2},
             "encoding": {"y": {"field": "q1", "type": "quantitative", "axis": {"title": "Overall Accuracy", "values": [0,0.1,0.2,0.3,0.4,0.5,0.6,0.7,0.8,0.9,1], "tickCount": 11, "format": ".0%"}}, "y2": {"field": "q3"},
               "fill": {"field": "series", "type": "nominal",
                 "scale": {"domain": ["PF1-128","PF2-GA-OA_P","PF2-PSO-OA_P","PF2-GA-FoM_P","PF2-PSO-FoM_P","PF3-ACO-60"],
                   "range": ["#5B9BD5",
                     {"expr": "{gradient: 'linear', x1: 0, y1: 1, x2: 10, y2: -9, stops: stripesBlue}"},
                     "#70AD47",
                     {"expr": "{gradient: 'linear', x1: 0, y1: 1, x2: 10, y2: -9, stops: stripesGreen}"},
                     "#FFC000",
                     {"expr": "{gradient: 'linear', x1: 0, y1: 1, x2: 10, y2: -9, stops: stripesYellow}"}]},
                 "legend": {"orient": "none", "legendX": 25, "legendY": -73, "direction": "horizontal", "columns": 6, "title": null,
                   "symbolType": "square", "symbolSize": 256, "symbolStrokeWidth": 1, "symbolStrokeColor": "#404040",
                   "labelFont": "Liberation Serif", "labelFontSize": 20, "labelColor": "#000000", "labelOffset": 4, "columnPadding": 14, "labelLimit": 300}}}},
            {"data": {"name": "stats"}, "transform": [{"filter": "datum.panel === 'a' && indexof(['PF2-GA-OA_P','PF2-GA-FoM_P','PF3-ACO-60'], datum.series) >= 0"}],
             "mark": {"type": "bar", "stroke": "#404040", "strokeWidth": 1.2,
               "fill": {"expr": "{gradient: 'linear', x1: 0, y1: 1, x2: 20800 / (4225 + pow((datum.q3 - datum.q1) * 299, 2)), y2: 1 - 320 * (datum.q3 - datum.q1) * 299 / (4225 + pow((datum.q3 - datum.q1) * 299, 2)), stops: datum.series === 'PF2-GA-OA_P' ? stripesBlue : datum.series === 'PF2-GA-FoM_P' ? stripesGreen : stripesYellow}"}},
             "encoding": {"y": {"field": "q1", "type": "quantitative", "axis": {"title": "Overall Accuracy", "values": [0,0.1,0.2,0.3,0.4,0.5,0.6,0.7,0.8,0.9,1], "tickCount": 11, "format": ".0%"}}, "y2": {"field": "q3"}}},
            {"data": {"name": "stats"}, "transform": [{"filter": "datum.panel === 'a'"}],
             "mark": {"type": "tick", "color": "#404040", "size": 65, "thickness": 1.4},
             "encoding": {"y": {"field": "median", "type": "quantitative", "axis": {"title": "Overall Accuracy", "values": [0,0.1,0.2,0.3,0.4,0.5,0.6,0.7,0.8,0.9,1], "tickCount": 11, "format": ".0%"}}}},
            {"data": {"name": "points"}, "transform": [{"filter": "datum.panel === 'a'"}],
             "mark": {"type": "point", "shape": "circle", "filled": true, "opacity": 1, "size": 26, "stroke": "#404040", "strokeWidth": 1.1},
             "encoding": {"y": {"field": "value", "type": "quantitative", "axis": {"title": "Overall Accuracy", "values": [0,0.1,0.2,0.3,0.4,0.5,0.6,0.7,0.8,0.9,1], "tickCount": 11, "format": ".0%"}},
               "fill": {"condition": [{"test": "datum.series === 'PF1-128'", "value": "#5B9BD5"}, {"test": "datum.series === 'PF2-PSO-OA_P'", "value": "#70AD47"}, {"test": "datum.series === 'PF2-PSO-FoM_P'", "value": "#FFC000"}, {"test": "datum.series === 'PF2-GA-OA_P'", "value": "#DDEBF7"}, {"test": "datum.series === 'PF2-GA-FoM_P'", "value": "#E2F0D9"}], "value": "#FFF2CC"}}},
            {"data": {"name": "stats"}, "transform": [{"filter": "datum.panel === 'a'"}],
             "mark": {"type": "point", "shape": "M-1,-1L1,1M-1,1L1,-1", "size": 90, "filled": false, "opacity": 1, "strokeWidth": 1.6},
             "encoding": {"y": {"field": "mean", "type": "quantitative", "axis": {"title": "Overall Accuracy", "values": [0,0.1,0.2,0.3,0.4,0.5,0.6,0.7,0.8,0.9,1], "tickCount": 11, "format": ".0%"}},
               "stroke": {"condition": {"test": "indexof(['PF2-GA-OA_P','PF2-GA-FoM_P','PF3-ACO-60'], datum.series) >= 0", "value": "#7a7a7a"}, "value": "#262626"}}}
          ]
        },
        {
          "width": 467, "height": 299,
          "title": {"text": "(b)"},
          "encoding": {"x": {"field": "series", "type": "nominal", "scale": {"domain": ["PF1-128","PF2-GA-OA_P","PF2-PSO-OA_P","PF2-GA-FoM_P","PF2-PSO-FoM_P","PF3-ACO-60"], "paddingInner": 0.1, "paddingOuter": 0.27}, "axis": null}},
          "layer": [
            {"data": {"name": "stats"}, "transform": [{"filter": "datum.panel === 'b'"}],
             "mark": {"type": "rule", "color": "#404040", "strokeWidth": 1.2},
             "encoding": {"y": {"field": "min", "type": "quantitative", "scale": {"domain": [0, 1], "nice": false}, "axis": {"title": "Tumor Sensitivity", "titleFont": "Open Sans", "titleFontSize": 13.5, "values": [0,0.1,0.2,0.3,0.4,0.5,0.6,0.7,0.8,0.9,1], "tickCount": 11, "format": ".0%"}}, "y2": {"field": "max"}}},
            {"data": {"name": "stats"}, "transform": [{"filter": "datum.panel === 'b'"}],
             "mark": {"type": "tick", "color": "#404040", "size": 15, "thickness": 1.2},
             "encoding": {"y": {"field": "min", "type": "quantitative", "axis": {"title": "Tumor Sensitivity", "titleFont": "Open Sans", "titleFontSize": 13.5, "values": [0,0.1,0.2,0.3,0.4,0.5,0.6,0.7,0.8,0.9,1], "tickCount": 11, "format": ".0%"}}}},
            {"data": {"name": "stats"}, "transform": [{"filter": "datum.panel === 'b'"}],
             "mark": {"type": "tick", "color": "#404040", "size": 15, "thickness": 1.2},
             "encoding": {"y": {"field": "max", "type": "quantitative", "axis": {"title": "Tumor Sensitivity", "titleFont": "Open Sans", "titleFontSize": 13.5, "values": [0,0.1,0.2,0.3,0.4,0.5,0.6,0.7,0.8,0.9,1], "tickCount": 11, "format": ".0%"}}}},
            {"data": {"name": "stats"}, "transform": [{"filter": "datum.panel === 'b'"}],
             "mark": {"type": "bar", "stroke": "#404040", "strokeWidth": 1.2},
             "encoding": {"y": {"field": "q1", "type": "quantitative", "axis": {"title": "Tumor Sensitivity", "titleFont": "Open Sans", "titleFontSize": 13.5, "values": [0,0.1,0.2,0.3,0.4,0.5,0.6,0.7,0.8,0.9,1], "tickCount": 11, "format": ".0%"}}, "y2": {"field": "q3"},
               "fill": {"field": "series", "type": "nominal", "legend": null}}},
            {"data": {"name": "stats"}, "transform": [{"filter": "datum.panel === 'b' && indexof(['PF2-GA-OA_P','PF2-GA-FoM_P','PF3-ACO-60'], datum.series) >= 0"}],
             "mark": {"type": "bar", "stroke": "#404040", "strokeWidth": 1.2,
               "fill": {"expr": "{gradient: 'linear', x1: 0, y1: 1, x2: 20800 / (4225 + pow((datum.q3 - datum.q1) * 299, 2)), y2: 1 - 320 * (datum.q3 - datum.q1) * 299 / (4225 + pow((datum.q3 - datum.q1) * 299, 2)), stops: datum.series === 'PF2-GA-OA_P' ? stripesBlue : datum.series === 'PF2-GA-FoM_P' ? stripesGreen : stripesYellow}"}},
             "encoding": {"y": {"field": "q1", "type": "quantitative", "axis": {"title": "Tumor Sensitivity", "titleFont": "Open Sans", "titleFontSize": 13.5, "values": [0,0.1,0.2,0.3,0.4,0.5,0.6,0.7,0.8,0.9,1], "tickCount": 11, "format": ".0%"}}, "y2": {"field": "q3"}}},
            {"data": {"name": "stats"}, "transform": [{"filter": "datum.panel === 'b'"}],
             "mark": {"type": "tick", "color": "#404040", "size": 65, "thickness": 1.4},
             "encoding": {"y": {"field": "median", "type": "quantitative", "axis": {"title": "Tumor Sensitivity", "titleFont": "Open Sans", "titleFontSize": 13.5, "values": [0,0.1,0.2,0.3,0.4,0.5,0.6,0.7,0.8,0.9,1], "tickCount": 11, "format": ".0%"}}}},
            {"data": {"name": "points"}, "transform": [{"filter": "datum.panel === 'b'"}],
             "mark": {"type": "point", "shape": "circle", "filled": true, "opacity": 1, "size": 26, "stroke": "#404040", "strokeWidth": 1.1},
             "encoding": {"y": {"field": "value", "type": "quantitative", "axis": {"title": "Tumor Sensitivity", "titleFont": "Open Sans", "titleFontSize": 13.5, "values": [0,0.1,0.2,0.3,0.4,0.5,0.6,0.7,0.8,0.9,1], "tickCount": 11, "format": ".0%"}},
               "fill": {"condition": [{"test": "datum.series === 'PF1-128'", "value": "#5B9BD5"}, {"test": "datum.series === 'PF2-PSO-OA_P'", "value": "#70AD47"}, {"test": "datum.series === 'PF2-PSO-FoM_P'", "value": "#FFC000"}, {"test": "datum.series === 'PF2-GA-OA_P'", "value": "#DDEBF7"}, {"test": "datum.series === 'PF2-GA-FoM_P'", "value": "#E2F0D9"}], "value": "#FFF2CC"}}},
            {"data": {"name": "stats"}, "transform": [{"filter": "datum.panel === 'b'"}],
             "mark": {"type": "point", "shape": "M-1,-1L1,1M-1,1L1,-1", "size": 90, "filled": false, "opacity": 1, "strokeWidth": 1.6},
             "encoding": {"y": {"field": "mean", "type": "quantitative", "axis": {"title": "Tumor Sensitivity", "titleFont": "Open Sans", "titleFontSize": 13.5, "values": [0,0.1,0.2,0.3,0.4,0.5,0.6,0.7,0.8,0.9,1], "tickCount": 11, "format": ".0%"}},
               "stroke": {"condition": {"test": "indexof(['PF2-GA-OA_P','PF2-GA-FoM_P','PF3-ACO-60'], datum.series) >= 0", "value": "#7a7a7a"}, "value": "#262626"}}}
          ]
        }
      ],
      "spacing": 50
    },
    {
      "hconcat": [
        {
          "width": 467, "height": 298,
          "title": {"text": "(c)"},
          "encoding": {"x": {"field": "series", "type": "nominal", "scale": {"domain": ["PF1-128","PF2-GA-OA_P","PF2-PSO-OA_P","PF2-GA-FoM_P","PF2-PSO-FoM_P","PF3-ACO-60"], "paddingInner": 0.1, "paddingOuter": 0.27}, "axis": null}},
          "layer": [
            {"data": {"name": "stats"}, "transform": [{"filter": "datum.panel === 'c'"}],
             "mark": {"type": "rule", "color": "#404040", "strokeWidth": 1.2},
             "encoding": {"y": {"field": "min", "type": "quantitative", "scale": {"domain": [0, 1], "nice": false}, "axis": {"title": "Normal Sensitivity", "values": [0,0.1,0.2,0.3,0.4,0.5,0.6,0.7,0.8,0.9,1], "tickCount": 11, "format": ".0%"}}, "y2": {"field": "max"}}},
            {"data": {"name": "stats"}, "transform": [{"filter": "datum.panel === 'c'"}],
             "mark": {"type": "tick", "color": "#404040", "size": 15, "thickness": 1.2},
             "encoding": {"y": {"field": "min", "type": "quantitative", "axis": {"title": "Normal Sensitivity", "values": [0,0.1,0.2,0.3,0.4,0.5,0.6,0.7,0.8,0.9,1], "tickCount": 11, "format": ".0%"}}}},
            {"data": {"name": "stats"}, "transform": [{"filter": "datum.panel === 'c'"}],
             "mark": {"type": "tick", "color": "#404040", "size": 15, "thickness": 1.2},
             "encoding": {"y": {"field": "max", "type": "quantitative", "axis": {"title": "Normal Sensitivity", "values": [0,0.1,0.2,0.3,0.4,0.5,0.6,0.7,0.8,0.9,1], "tickCount": 11, "format": ".0%"}}}},
            {"data": {"name": "stats"}, "transform": [{"filter": "datum.panel === 'c'"}],
             "mark": {"type": "bar", "stroke": "#404040", "strokeWidth": 1.2},
             "encoding": {"y": {"field": "q1", "type": "quantitative", "axis": {"title": "Normal Sensitivity", "values": [0,0.1,0.2,0.3,0.4,0.5,0.6,0.7,0.8,0.9,1], "tickCount": 11, "format": ".0%"}}, "y2": {"field": "q3"},
               "fill": {"field": "series", "type": "nominal", "legend": null}}},
            {"data": {"name": "stats"}, "transform": [{"filter": "datum.panel === 'c' && indexof(['PF2-GA-OA_P','PF2-GA-FoM_P','PF3-ACO-60'], datum.series) >= 0"}],
             "mark": {"type": "bar", "stroke": "#404040", "strokeWidth": 1.2,
               "fill": {"expr": "{gradient: 'linear', x1: 0, y1: 1, x2: 20800 / (4225 + pow((datum.q3 - datum.q1) * 298, 2)), y2: 1 - 320 * (datum.q3 - datum.q1) * 298 / (4225 + pow((datum.q3 - datum.q1) * 298, 2)), stops: datum.series === 'PF2-GA-OA_P' ? stripesBlue : datum.series === 'PF2-GA-FoM_P' ? stripesGreen : stripesYellow}"}},
             "encoding": {"y": {"field": "q1", "type": "quantitative", "axis": {"title": "Normal Sensitivity", "values": [0,0.1,0.2,0.3,0.4,0.5,0.6,0.7,0.8,0.9,1], "tickCount": 11, "format": ".0%"}}, "y2": {"field": "q3"}}},
            {"data": {"name": "stats"}, "transform": [{"filter": "datum.panel === 'c'"}],
             "mark": {"type": "tick", "color": "#404040", "size": 65, "thickness": 1.4},
             "encoding": {"y": {"field": "median", "type": "quantitative", "axis": {"title": "Normal Sensitivity", "values": [0,0.1,0.2,0.3,0.4,0.5,0.6,0.7,0.8,0.9,1], "tickCount": 11, "format": ".0%"}}}},
            {"data": {"name": "points"}, "transform": [{"filter": "datum.panel === 'c'"}],
             "mark": {"type": "point", "shape": "circle", "filled": true, "opacity": 1, "size": 26, "stroke": "#404040", "strokeWidth": 1.1},
             "encoding": {"y": {"field": "value", "type": "quantitative", "axis": {"title": "Normal Sensitivity", "values": [0,0.1,0.2,0.3,0.4,0.5,0.6,0.7,0.8,0.9,1], "tickCount": 11, "format": ".0%"}},
               "fill": {"condition": [{"test": "datum.series === 'PF1-128'", "value": "#5B9BD5"}, {"test": "datum.series === 'PF2-PSO-OA_P'", "value": "#70AD47"}, {"test": "datum.series === 'PF2-PSO-FoM_P'", "value": "#FFC000"}, {"test": "datum.series === 'PF2-GA-OA_P'", "value": "#DDEBF7"}, {"test": "datum.series === 'PF2-GA-FoM_P'", "value": "#E2F0D9"}], "value": "#FFF2CC"}}},
            {"data": {"name": "stats"}, "transform": [{"filter": "datum.panel === 'c'"}],
             "mark": {"type": "point", "shape": "M-1,-1L1,1M-1,1L1,-1", "size": 90, "filled": false, "opacity": 1, "strokeWidth": 1.6},
             "encoding": {"y": {"field": "mean", "type": "quantitative", "axis": {"title": "Normal Sensitivity", "values": [0,0.1,0.2,0.3,0.4,0.5,0.6,0.7,0.8,0.9,1], "tickCount": 11, "format": ".0%"}},
               "stroke": {"condition": {"test": "indexof(['PF2-GA-OA_P','PF2-GA-FoM_P','PF3-ACO-60'], datum.series) >= 0", "value": "#7a7a7a"}, "value": "#262626"}}}
          ]
        },
        {
          "width": 467, "height": 298,
          "title": {"text": "(d)"},
          "encoding": {"x": {"field": "series", "type": "nominal", "scale": {"domain": ["PF1-128","PF2-GA-OA_P","PF2-PSO-OA_P","PF2-GA-FoM_P","PF2-PSO-FoM_P","PF3-ACO-60"], "paddingInner": 0.1, "paddingOuter": 0.27}, "axis": null}},
          "layer": [
            {"data": {"name": "stats"}, "transform": [{"filter": "datum.panel === 'd'"}],
             "mark": {"type": "rule", "color": "#404040", "strokeWidth": 1.2},
             "encoding": {"y": {"field": "min", "type": "quantitative", "scale": {"domain": [0, 1], "nice": false}, "axis": {"title": "Hypervascularized  Sensitivity", "values": [0,0.1,0.2,0.3,0.4,0.5,0.6,0.7,0.8,0.9,1], "tickCount": 11, "format": ".0%"}}, "y2": {"field": "max"}}},
            {"data": {"name": "stats"}, "transform": [{"filter": "datum.panel === 'd'"}],
             "mark": {"type": "tick", "color": "#404040", "size": 15, "thickness": 1.2},
             "encoding": {"y": {"field": "min", "type": "quantitative", "axis": {"title": "Hypervascularized  Sensitivity", "values": [0,0.1,0.2,0.3,0.4,0.5,0.6,0.7,0.8,0.9,1], "tickCount": 11, "format": ".0%"}}}},
            {"data": {"name": "stats"}, "transform": [{"filter": "datum.panel === 'd'"}],
             "mark": {"type": "tick", "color": "#404040", "size": 15, "thickness": 1.2},
             "encoding": {"y": {"field": "max", "type": "quantitative", "axis": {"title": "Hypervascularized  Sensitivity", "values": [0,0.1,0.2,0.3,0.4,0.5,0.6,0.7,0.8,0.9,1], "tickCount": 11, "format": ".0%"}}}},
            {"data": {"name": "stats"}, "transform": [{"filter": "datum.panel === 'd'"}],
             "mark": {"type": "bar", "stroke": "#404040", "strokeWidth": 1.2},
             "encoding": {"y": {"field": "q1", "type": "quantitative", "axis": {"title": "Hypervascularized  Sensitivity", "values": [0,0.1,0.2,0.3,0.4,0.5,0.6,0.7,0.8,0.9,1], "tickCount": 11, "format": ".0%"}}, "y2": {"field": "q3"},
               "fill": {"field": "series", "type": "nominal", "legend": null}}},
            {"data": {"name": "stats"}, "transform": [{"filter": "datum.panel === 'd' && indexof(['PF2-GA-OA_P','PF2-GA-FoM_P','PF3-ACO-60'], datum.series) >= 0"}],
             "mark": {"type": "bar", "stroke": "#404040", "strokeWidth": 1.2,
               "fill": {"expr": "{gradient: 'linear', x1: 0, y1: 1, x2: 20800 / (4225 + pow((datum.q3 - datum.q1) * 298, 2)), y2: 1 - 320 * (datum.q3 - datum.q1) * 298 / (4225 + pow((datum.q3 - datum.q1) * 298, 2)), stops: datum.series === 'PF2-GA-OA_P' ? stripesBlue : datum.series === 'PF2-GA-FoM_P' ? stripesGreen : stripesYellow}"}},
             "encoding": {"y": {"field": "q1", "type": "quantitative", "axis": {"title": "Hypervascularized  Sensitivity", "values": [0,0.1,0.2,0.3,0.4,0.5,0.6,0.7,0.8,0.9,1], "tickCount": 11, "format": ".0%"}}, "y2": {"field": "q3"}}},
            {"data": {"name": "stats"}, "transform": [{"filter": "datum.panel === 'd'"}],
             "mark": {"type": "tick", "color": "#404040", "size": 65, "thickness": 1.4},
             "encoding": {"y": {"field": "median", "type": "quantitative", "axis": {"title": "Hypervascularized  Sensitivity", "values": [0,0.1,0.2,0.3,0.4,0.5,0.6,0.7,0.8,0.9,1], "tickCount": 11, "format": ".0%"}}}},
            {"data": {"name": "points"}, "transform": [{"filter": "datum.panel === 'd'"}],
             "mark": {"type": "point", "shape": "circle", "filled": true, "opacity": 1, "size": 26, "stroke": "#404040", "strokeWidth": 1.1},
             "encoding": {"y": {"field": "value", "type": "quantitative", "axis": {"title": "Hypervascularized  Sensitivity", "values": [0,0.1,0.2,0.3,0.4,0.5,0.6,0.7,0.8,0.9,1], "tickCount": 11, "format": ".0%"}},
               "fill": {"condition": [{"test": "datum.series === 'PF1-128'", "value": "#5B9BD5"}, {"test": "datum.series === 'PF2-PSO-OA_P'", "value": "#70AD47"}, {"test": "datum.series === 'PF2-PSO-FoM_P'", "value": "#FFC000"}, {"test": "datum.series === 'PF2-GA-OA_P'", "value": "#DDEBF7"}, {"test": "datum.series === 'PF2-GA-FoM_P'", "value": "#E2F0D9"}], "value": "#FFF2CC"}}},
            {"data": {"name": "stats"}, "transform": [{"filter": "datum.panel === 'd'"}],
             "mark": {"type": "point", "shape": "M-1,-1L1,1M-1,1L1,-1", "size": 90, "filled": false, "opacity": 1, "strokeWidth": 1.6},
             "encoding": {"y": {"field": "mean", "type": "quantitative", "axis": {"title": "Hypervascularized  Sensitivity", "values": [0,0.1,0.2,0.3,0.4,0.5,0.6,0.7,0.8,0.9,1], "tickCount": 11, "format": ".0%"}},
               "stroke": {"condition": {"test": "indexof(['PF2-GA-OA_P','PF2-GA-FoM_P','PF3-ACO-60'], datum.series) >= 0", "value": "#7a7a7a"}, "value": "#262626"}}}
          ]
        }
      ],
      "spacing": 50
    }
  ],
  "spacing": 29,
  "config": {
    "font": "Open Sans",
    "view": {"stroke": null},
    "axis": {
      "grid": true, "gridColor": "#767676", "gridWidth": 1.2,
      "domain": true, "domainColor": "#767676", "domainWidth": 1.2,
      "ticks": false, "tickSize": 0,
      "labelFont": "Open Sans", "labelFontSize": 12.5, "labelColor": "#595959", "labelPadding": 12,
      "titleFont": "Liberation Serif", "titleFontSize": 15.5, "titleFontWeight": "normal", "titleColor": "#262626", "titlePadding": 12
    },
    "axisY": {"tickCount": 11},
    "title": {"orient": "bottom", "frame": "bounds", "anchor": "middle", "offset": 35, "font": "Liberation Serif", "fontSize": 18, "fontWeight": "bold", "color": "#000000"}
  }
}
